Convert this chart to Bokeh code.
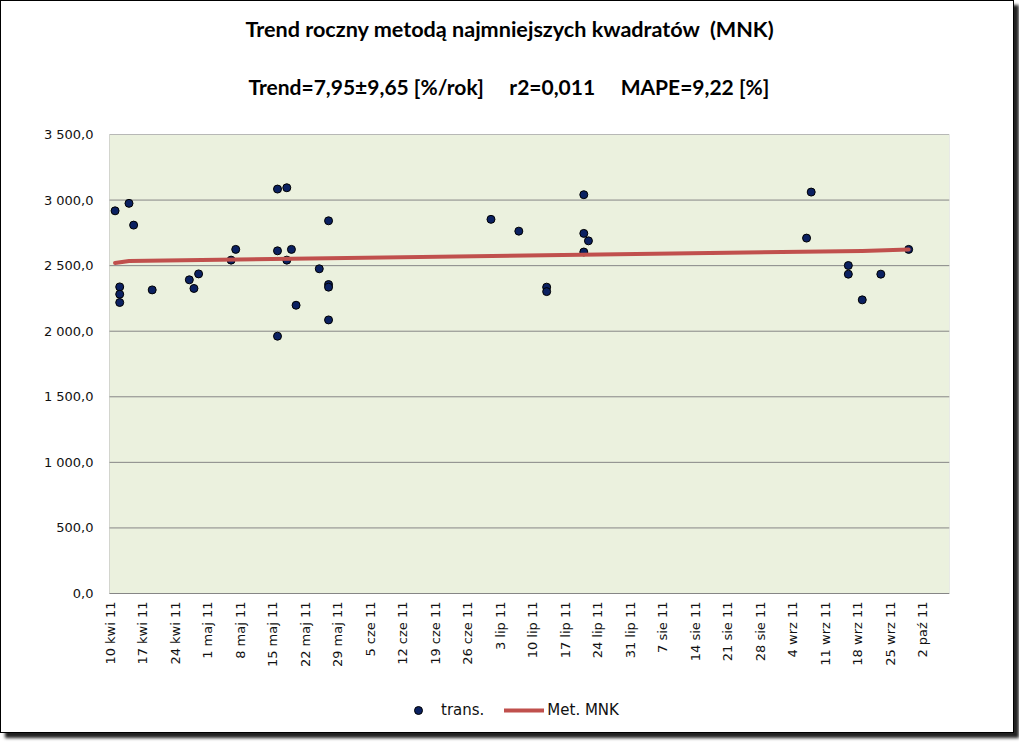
import math
import pandas as pd
from bokeh.plotting import figure
from bokeh.models import (Range1d, FixedTicker, Title, Legend, LegendItem,
                          BoxAnnotation)
from bokeh.core.properties import value
from bokeh.embed import file_html
from bokeh.resources import INLINE

# ---------------- data ----------------
origin = "2011-04-10"

dates = ["2011-04-11", "2011-04-12", "2011-04-12", "2011-04-12", "2011-04-14",
         "2011-04-15", "2011-04-19", "2011-04-27", "2011-04-28", "2011-04-29",
         "2011-05-06", "2011-05-07", "2011-05-16", "2011-05-16", "2011-05-16",
         "2011-05-18", "2011-05-18", "2011-05-19", "2011-05-20", "2011-05-25",
         "2011-05-27", "2011-05-27", "2011-05-27", "2011-05-27", "2011-07-01",
         "2011-07-07", "2011-07-13", "2011-07-13", "2011-07-21", "2011-07-21",
         "2011-07-21", "2011-07-22", "2011-09-07", "2011-09-08", "2011-09-16",
         "2011-09-16", "2011-09-19", "2011-09-23", "2011-09-29"]
values = [2918, 2338, 2282, 2219, 2975,
          2809, 2315, 2392, 2326, 2437,
          2542, 2624, 3084, 2613, 1962,
          3094, 2542, 2624, 2198, 2476,
          2842, 2356, 2336, 2086, 2853,
          2763, 2336, 2302, 3041, 2746,
          2604, 2689, 2710, 3061, 2501,
          2435, 2239, 2435, 2624]

trend_dates = ["2011-04-11", "2011-04-14", "2011-09-19", "2011-09-29"]
trend_values = [2520, 2535, 2612, 2624]

tick_labels = ["10 kwi 11", "17 kwi 11", "24 kwi 11", "1 maj 11", "8 maj 11",
               "15 maj 11", "22 maj 11", "29 maj 11", "5 cze 11", "12 cze 11",
               "19 cze 11", "26 cze 11", "3 lip 11", "10 lip 11", "17 lip 11",
               "24 lip 11", "31 lip 11", "7 sie 11", "14 sie 11", "21 sie 11",
               "28 sie 11", "4 wrz 11", "11 wrz 11", "18 wrz 11", "25 wrz 11",
               "2 paź 11"]

y_ticks = [0, 500, 1000, 1500, 2000, 2500, 3000, 3500]
y_tick_labels = ["0,0", "500,0", "1\u00a0000,0", "1\u00a0500,0", "2\u00a0000,0",
                 "2\u00a0500,0", "3\u00a0000,0", "3\u00a0500,0"]

title_text = "Trend roczny metodą najmniejszych kwadratów\u00a0\u00a0(MNK)"
subtitle_text = ("Trend=7,95±9,65 [%/rok]\u00a0\u00a0\u00a0\u00a0\u00a0"
                 "r2=0,011\u00a0\u00a0\u00a0\u00a0\u00a0MAPE=9,22 [%]")
series_names = ["trans.", "Met. MNK"]

# ---------------- helpers ----------------
t0 = pd.Timestamp(origin)
def days(ds):
    return [(pd.Timestamp(d) - t0).days for d in ds]

x = days(dates)
tx = days(trend_dates)
tick_dates = pd.date_range(origin, periods=len(tick_labels), freq="7D")
tick_pos = [(d - t0).days for d in tick_dates]

# plotting area: 0..3500 over 459 px, day -0.2 .. 180.8 over 840 px.
# The frame is a little larger (left: room for the first date label,
# bottom: room for the date labels and the legend).
x_lo, x_hi = -0.2, 180.8
px_per_day = 840 / (x_hi - x_lo)
left_pad = 8
y_max = y_ticks[-1]
px_per_unit = 459 / y_max
frame_h = 596
y_min = y_max - frame_h / px_per_unit

# ---------------- figure ----------------
p = figure(frame_width=840 + left_pad, frame_height=frame_h,
           output_backend="svg", toolbar_location=None,
           x_range=Range1d(x_lo - left_pad / px_per_day, x_hi),
           y_range=Range1d(y_min, y_max),
           min_border_left=108 - left_pad, min_border_right=64,
           min_border_top=133, min_border_bottom=2)
p.title = None
p.background_fill_color = "white"
p.border_fill_color = "white"
p.outline_line_color = None
p.styles = {"border": "1px solid black", "box-shadow": "5px 5px 3px #222"}

# green plotting area
p.add_layout(BoxAnnotation(left=x_lo, right=x_hi, bottom=y_ticks[0], top=y_max,
                           level="image", fill_color="#EBF1DE", fill_alpha=1,
                           line_color="#868686", line_width=1))

# horizontal grid lines limited to the plotting area
p.xgrid.grid_line_color = None
p.ygrid.grid_line_color = None
p.segment(x0=[x_lo] * len(y_ticks), x1=[x_hi] * len(y_ticks),
          y0=y_ticks, y1=y_ticks, line_color="#868686", line_width=1)

p.xaxis.visible = False
p.yaxis.ticker = FixedTicker(ticks=y_ticks)
p.yaxis.major_label_overrides = {t: l for t, l in zip(y_ticks, y_tick_labels)}
p.yaxis.axis_line_color = None
p.yaxis.major_tick_line_color = None
p.yaxis.minor_tick_line_color = None
p.yaxis.major_tick_out = 0
p.yaxis.major_tick_in = 0
p.yaxis.major_label_text_font = "DejaVu Sans"
p.yaxis.major_label_text_font_size = "13px"
p.yaxis.major_label_text_color = "#111111"
p.yaxis.major_label_standoff = 16 - left_pad

# date labels under the plotting area, rotated like the original
p.text(x=tick_pos, y=[y_ticks[0]] * len(tick_pos), text=tick_labels,
       angle=math.pi / 2, text_align="right", text_baseline="middle",
       y_offset=8, text_font=value("DejaVu Sans"), text_font_size="13px",
       text_color="#111111")

pts = p.scatter(x, values, size=8, fill_color="#0B2161", line_color="#000000",
                line_width=1)
ln = p.line(tx, trend_values, line_color="#C0504D", line_width=4,
            line_join="round", line_cap="round")

legend = Legend(items=[LegendItem(label=series_names[0], renderers=[pts]),
                       LegendItem(label=series_names[1], renderers=[ln])],
                location=(289 + left_pad, 10), orientation="horizontal",
                glyph_width=40, glyph_height=20, label_standoff=3, spacing=20,
                padding=0, margin=0, background_fill_alpha=0,
                border_line_color=None, label_text_font="DejaVu Sans",
                label_text_font_size="15px", label_text_color="#111111")
p.add_layout(legend, "center")

sub = Title(text=subtitle_text, align="left", offset=139 + left_pad, standoff=72,
            text_font="Lato", text_font_style="bold", text_font_size="21px",
            text_color="#000000")
main = Title(text=title_text, align="left", offset=136 + left_pad, standoff=-13,
             text_font="Lato", text_font_style="bold", text_font_size="21.6px",
             text_color="#000000")
p.add_layout(sub, "above")
p.add_layout(main, "above")

open("out.html", "w").write(file_html(p, INLINE))
